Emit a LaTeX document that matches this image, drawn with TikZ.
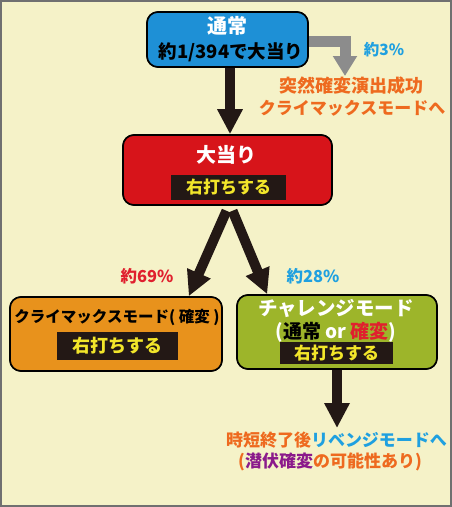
\documentclass[tikz,border=0pt]{standalone}
\usepackage{fontspec}
\setmainfont{Noto Sans CJK JP}
\usetikzlibrary{arrows.meta}

\definecolor{bgcream}{HTML}{F5F2C8}
\definecolor{framegray}{HTML}{707070}
\definecolor{boxblue}{HTML}{1E90D6}
\definecolor{boxred}{HTML}{D7141A}
\definecolor{boxorange}{HTML}{E8921C}
\definecolor{boxgreen}{HTML}{9DB52A}
\definecolor{bandyellow}{HTML}{F2E52A}
\definecolor{bandblack}{HTML}{231815}
\definecolor{txtorange}{HTML}{EE6A1F}
\definecolor{txtblue}{HTML}{1FA0E0}
\definecolor{txtred}{HTML}{E0202E}
\definecolor{txtpurple}{HTML}{8B1A8B}
\definecolor{arrowgray}{HTML}{8C8C8C}

\newcommand{\fs}[1]{\bfseries\fontsize{#1}{#1}\selectfont}

\tikzset{
	modebox/.style={draw=black, line width=1.6pt, rounded corners=11pt, inner sep=0pt},
	band/.style={fill=bandblack, text=bandyellow, inner sep=0pt, font=\fs{17}},
	bigarrow/.style={draw=bandblack, line width=10pt, -{Triangle[length=25pt,width=24pt]}},
	grayarrow/.style={draw=arrowgray, line width=11pt, line join=miter, -{Triangle[length=20pt,width=23pt]}}
}

\begin{document}
\begin{tikzpicture}[x=1pt,y=-1pt]
	% Background and frame
	\useasboundingbox (0,0) rectangle (452,507);
	\fill[bgcream] (0,0) rectangle (452,507);
	\draw[framegray, line width=2pt] (1,1) rectangle (451,506);
	
	% Boxes (positions only, drawn later)
	\path (227.5,39.5) node[modebox, fill=boxblue, minimum width=161pt, minimum height=55pt] (normal) {};
	\path (227.5,170) node[modebox, fill=boxred, minimum width=209pt, minimum height=70pt] (bigwin) {};
	\path (116,334) node[modebox, fill=boxorange, minimum width=212pt, minimum height=74pt] (climax) {};
	\path (337,332) node[modebox, fill=boxgreen, minimum width=200pt, minimum height=74pt] (challenge) {};
	
	% Arrows
	\coordinate (suddentip) at (345,76);
	\coordinate (revengetip) at (337,428);
	\draw[grayarrow] ([yshift=-1.5pt]normal.east) -| (suddentip);
	\draw[bigarrow] ([xshift=2.5pt]normal.south) -- ([xshift=2.5pt]bigwin.north);
	\draw[bigarrow] ([xshift=-1pt,yshift=-5pt]bigwin.south) -- ([xshift=-34pt]climax.north east);
	\draw[bigarrow] ([xshift=5pt,yshift=-5pt]bigwin.south) -- ([xshift=31pt]challenge.north west);
	\draw[bigarrow] (challenge.south) -- (revengetip);
	
	% Boxes on top of the arrow ends
	\node[modebox, fill=boxblue, minimum width=161pt, minimum height=55pt] at (normal) {};
	\node[modebox, fill=boxred, minimum width=209pt, minimum height=70pt] at (bigwin) {};
	\node[modebox, fill=boxorange, minimum width=212pt, minimum height=74pt] at (climax) {};
	\node[modebox, fill=boxgreen, minimum width=200pt, minimum height=74pt] at (challenge) {};
	
	% Normal mode
	\node[text=white, font=\fs{20}] (normaltitle) at (227.5,26) {通常};
	\node[text=black, font=\fs{18.5}] (normalodds) at (231,52) {約1/394で大当り};
	
	% Sudden branch
	\node[text=txtblue, font=\fs{15.5}] (suddenrate) at (384,50) {約3\%};
	\node[text=txtorange, font=\fs{18}] (suddenline) at (351,86) {突然確変演出成功};
	\node[text=txtorange, font=\fs{17}] (suddenmode) at (352,108) {クライマックスモードへ};
	
	% Big win
	\node[text=white, font=\fs{20}] (bigwintitle) at (226,155) {大当り};
	\node[band, minimum width=115pt, minimum height=25pt] (bigwinband) at (228.5,187) {右打ちする};
	
	% Rates
	\node[text=txtred, font=\fs{16.5}] (climaxrate) at (147,276) {約69\%};
	\node[text=txtblue, font=\fs{16.5}] (challengerate) at (313,276) {約28\%};
	
	% Climax mode
	\node[text=black, font=\fs{15.5}] (climaxtitle) at (117,317) {クライマックスモード( 確変 )};
	\node[band, font=\fs{18}, minimum width=121pt, minimum height=28pt] (climaxband) at (117.5,346) {右打ちする};
	
	% Challenge mode
	\node[text=white, font=\fs{19.5}] (challengetitle) at (336,308) {チャレンジモード};
	\node[text=black, font=\fs{19}] (challengesub) at (336,332) {\textcolor{white}{(}通常 \textcolor{white}{or} \textcolor{txtred}{確変}\textcolor{white}{)}};
	\node[band, minimum width=113pt, minimum height=22pt] (challengeband) at (336.5,353) {右打ちする};
	
	% After the challenge
	\node[font=\fs{17}] (revengeline) at (336.5,440) {\textcolor{txtorange}{時短終了後}\textcolor{txtblue}{リベンジモードへ}};
	\node[text=txtorange, font=\fs{17}] (revengenote) at (330,462) {(\textcolor{txtpurple}{潜伏確変}の可能性あり)};
\end{tikzpicture}
\end{document}
